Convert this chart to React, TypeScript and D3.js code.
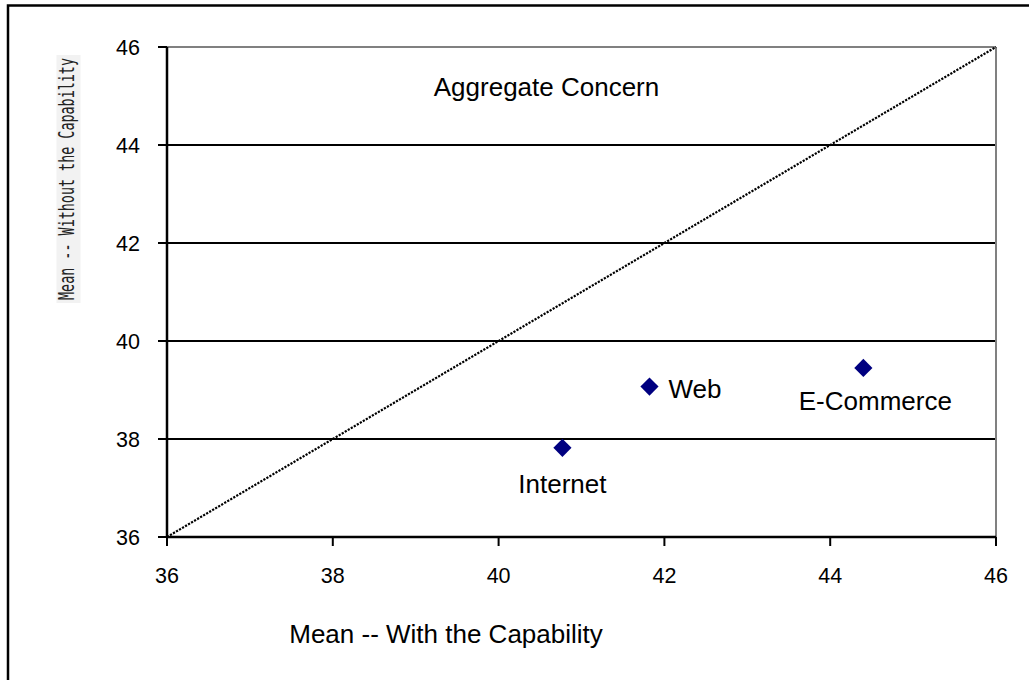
import React from "react";
import * as d3 from "d3";

// Capability groups and their mean concern scores
const categories = ["Internet", "Web", "E-Commerce"];
const withCapability = [40.77, 41.82, 44.4];
const withoutCapability = [37.82, 39.07, 39.45];
const xTicks = [36, 38, 40, 42, 44, 46];
const yTicks = [36, 38, 40, 42, 44, 46];
const chartTitle = "Aggregate Concern";
const xTitle = "Mean -- With the Capability";
const yTitle = "Mean -- Without the Capability";

const W = 1029;
const H = 680;
const plot = { left: 167, right: 996, top: 47, bottom: 537 };

// label offsets relative to each point
const labelPos: Record<string, { dx: number; dy: number; anchor: string }> = {
  Internet: { dx: 0, dy: 45, anchor: "middle" },
  Web: { dx: 19, dy: 11, anchor: "start" },
  "E-Commerce": { dx: 12, dy: 42, anchor: "middle" },
};

export default function App() {
  const x = d3.scaleLinear().domain([36, 46]).range([plot.left, plot.right]);
  const y = d3.scaleLinear().domain([36, 46]).range([plot.bottom, plot.top]);
  const diag = d3.line<number>().x((v) => x(v)).y((v) => y(v));
  // square marker turned 45 degrees
  const diamond = d3.symbol().type(d3.symbolSquare).size(165)() as string;
  const font = "Liberation Sans, Arial, sans-serif";

  return (
    <svg
      width={W}
      height={H}
      style={{ position: "absolute", left: 0, top: 0, background: "#fff" }}
    >
      {/* outer frame */}
      <rect x={8} y={5.5} width={1040} height={700} fill="none" stroke="#000" strokeWidth={2.5} />

      {/* horizontal gridlines */}
      {yTicks
        .filter((t) => t > 36 && t < 46)
        .map((t) => (
          <line key={t} x1={plot.left} x2={plot.right} y1={y(t)} y2={y(t)} stroke="#000" strokeWidth={2} />
        ))}
      {/* top and right plot border */}
      <line x1={plot.left} x2={plot.right} y1={y(46)} y2={y(46)} stroke="#808080" strokeWidth={2} />
      <line x1={plot.right} x2={plot.right} y1={plot.top} y2={plot.bottom} stroke="#808080" strokeWidth={2} />

      {/* diagonal reference line */}
      <path d={diag([36, 46]) as string} stroke="#000" strokeWidth={2.2} strokeDasharray="2.2,1.3" fill="none" />

      {/* axes */}
      <line x1={plot.left} x2={plot.left} y1={plot.top} y2={plot.bottom} stroke="#000" strokeWidth={2.5} />
      <line x1={plot.left} x2={plot.right} y1={plot.bottom} y2={plot.bottom} stroke="#000" strokeWidth={2.5} />
      {yTicks.map((t) => (
        <g key={"y" + t}>
          <line x1={plot.left - 9} x2={plot.left} y1={y(t)} y2={y(t)} stroke="#000" strokeWidth={2} />
          <text x={140} y={y(t) + 8} textAnchor="end" fontFamily={font} fontSize={21.5}>
            {t}
          </text>
        </g>
      ))}
      {xTicks.map((t) => (
        <g key={"x" + t}>
          <line x1={x(t)} x2={x(t)} y1={plot.bottom} y2={plot.bottom + 9} stroke="#000" strokeWidth={2} />
          <text x={x(t)} y={583} textAnchor="middle" fontFamily={font} fontSize={21.5}>
            {t}
          </text>
        </g>
      ))}

      {/* points */}
      {categories.map((c, i) => {
        const px = x(withCapability[i]);
        const py = y(withoutCapability[i]);
        const lp = labelPos[c];
        return (
          <g key={c}>
            <path d={diamond} transform={`translate(${px},${py}) rotate(45)`} fill="#000080" />
            <text
              x={px + lp.dx}
              y={py + lp.dy}
              textAnchor={lp.anchor as any}
              fontFamily={font}
              fontSize={26}
            >
              {c}
            </text>
          </g>
        );
      })}

      {/* titles */}
      <text x={546.5} y={96} textAnchor="middle" fontFamily={font} fontSize={26}>
        {chartTitle}
      </text>
      <text x={446} y={643} textAnchor="middle" fontFamily={font} fontSize={26}>
        {xTitle}
      </text>
      <g transform="translate(74,179) rotate(-90)">
        <rect x={-124} y={-17.5} width={248} height={24} fill="#f2f2f2" />
        <g transform="scale(1,1.55)">
          <text
            x={0}
            y={0}
            textAnchor="middle"
            fontFamily="DejaVu Sans Mono, monospace"
            fontSize={13.4}
            fill="#222"
          >
            {yTitle}
          </text>
        </g>
      </g>
    </svg>
  );
}
